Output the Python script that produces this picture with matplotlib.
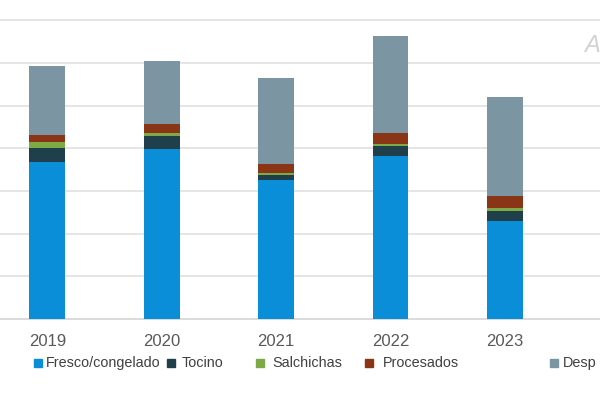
import matplotlib
matplotlib.use("Agg")
import matplotlib.pyplot as plt
from matplotlib.patches import Rectangle
import numpy as np

plt.rcParams['font.family'] = ['Liberation Sans', 'DejaVu Sans']

# datos (en unidades de la cuadrícula)
years = ['2019', '2020', '2021', '2022', '2023']
fresco = [3.68, 3.99, 3.25, 3.81, 2.30]
tocino = [0.33, 0.29, 0.12, 0.24, 0.23]
salchichas = [0.13, 0.08, 0.05, 0.06, 0.06]
procesados = [0.18, 0.20, 0.20, 0.25, 0.29]
despojos = [1.61, 1.48, 2.02, 2.27, 2.33]

series = [fresco, tocino, salchichas, procesados, despojos]
# el último rótulo aparece cortado en el original
labels = ['Fresco/congelado', 'Tocino', 'Salchichas', 'Procesados', 'Desp']
colors = ['#0b8ed8', '#1f3f4b', '#7daa47', '#8a3516', '#7b96a2']

W, H = 600, 394
fig = plt.figure(figsize=(W / 100, H / 100), dpi=100)
ax = fig.add_axes([0, (H - 319) / H, 1, 319 / H])

x = np.arange(len(years))
bottom = np.zeros(len(years))
for vals, c in zip(series, colors):
    ax.bar(x, vals, width=0.313, bottom=bottom, color=c, zorder=3)
    bottom += np.array(vals)

ax.set_xlim(-0.413, 4.83)
ax.set_ylim(0, 319 / 42.7)
ax.set_yticks(np.arange(1, 8))
ax.yaxis.grid(True, color='#e0e0e0', linewidth=1.2, zorder=0)
ax.tick_params(axis='y', left=False, labelleft=False)
ax.tick_params(axis='x', length=0, pad=11, labelsize=12, labelcolor='#595959')
ax.set_xticks(x)
ax.set_xticklabels(years)
for s in ['top', 'left', 'right']:
    ax.spines[s].set_visible(False)
ax.spines['bottom'].set_color('#d4d4d4')
ax.spines['bottom'].set_linewidth(1.2)

# leyenda manual (espaciado irregular como en el original)
sq_x = [34, 167, 256, 365, 550]
tx_x = [46, 182, 272, 383, 563]
ly = 363
for sx, tx, lab, c in zip(sq_x, tx_x, labels, colors):
    fig.patches.append(Rectangle((sx / W, (H - ly - 4) / H), 8 / W, 8 / H,
                                 transform=fig.transFigure, color=c))
    fig.text(tx / W, (H - ly) / H, lab, fontsize=10.4, color='#404040',
             ha='left', va='center')

# marca de agua
fig.text(584 / W, (H - 46) / H, 'A', fontsize=17, color='#d2d2d2',
         style='italic', ha='left', va='center')

fig.savefig('out.png', dpi=100)
